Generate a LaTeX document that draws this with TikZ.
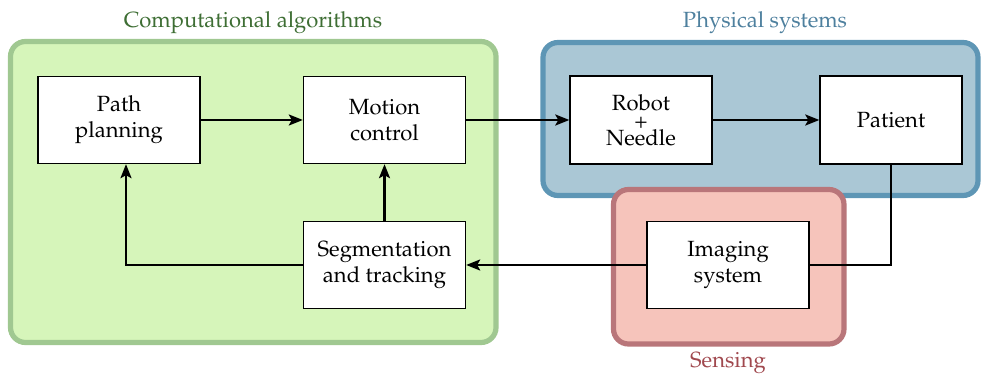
\documentclass[tikz,border=0pt]{standalone}
\usepackage[T1]{fontenc}
\usepackage{mathpazo}
\usetikzlibrary{arrows.meta}

\definecolor{algfill}{RGB}{214,245,186}
\definecolor{algline}{RGB}{160,200,145}
\definecolor{algtext}{RGB}{62,110,52}
\definecolor{physfill}{RGB}{170,199,213}
\definecolor{physline}{RGB}{94,150,181}
\definecolor{phystext}{RGB}{78,128,158}
\definecolor{sensfill}{RGB}{246,196,187}
\definecolor{sensline}{RGB}{185,118,122}
\definecolor{senstext}{RGB}{160,72,78}

\tikzset{
  group/.style={line width=2.6pt, rounded corners=7.5pt},
  block/.style={draw=black, fill=white, line width=0.7pt, align=center,
    inner sep=2pt, font=\fontsize{11}{13}\selectfont},
  wide/.style={block, minimum width=81pt, minimum height=43.5pt},
  narrow/.style={block, minimum width=71pt, minimum height=44pt},
  grouplabel/.style={anchor=base, font=\fontsize{11}{13}\selectfont},
  flow/.style={line width=1.1pt, -{Stealth[length=7pt,width=5.5pt,inset=1.5pt]}},
  link/.style={line width=1.1pt}
}

\begin{document}
\begin{tikzpicture}[x=0.5pt, y=-0.5pt]
\useasboundingbox (0,0) rectangle (981,379);

% group panels
\draw[group, fill=algfill, draw=algline] (10.5,41.5) rectangle (496,342.5);
\draw[group, fill=physfill, draw=physline] (543,42.5) rectangle (978,195.5);
\draw[group, fill=sensfill, draw=sensline] (613.5,189.5) rectangle (844,344);

% group titles
\node[grouplabel, text=algtext] (talg) at (253,28) {Computational algorithms};
\node[grouplabel, text=phystext] (tphys) at (765,28) {Physical systems};
\node[grouplabel, text=senstext] (tsens) at (728,368) {Sensing};

% blocks
\node[wide] (path) at (119,120) {Path\\planning};
\node[wide] (motion) at (384.5,120) {Motion\\control};
\node[narrow] (robot) at (641,120) {Robot\\[-4pt]+\\[-4.5pt]Needle};
\node[narrow] (patient) at (891,120) {Patient};
\node[wide] (seg) at (384.5,265) {Segmentation\\and tracking};
\node[wide] (img) at (728,265) {Imaging\\system};

% signal flow
\draw[flow] (path) -- (motion);
\draw[flow] (motion) -- (robot);
\draw[flow] (robot) -- (patient);
\draw[link] (patient.south) |- (img.east);
\draw[flow] (img) -- (seg);
\draw[flow] (seg) -- (motion);
\draw[flow] (seg.west) -| ([xshift=3.5pt]path.south);
\end{tikzpicture}
\end{document}
